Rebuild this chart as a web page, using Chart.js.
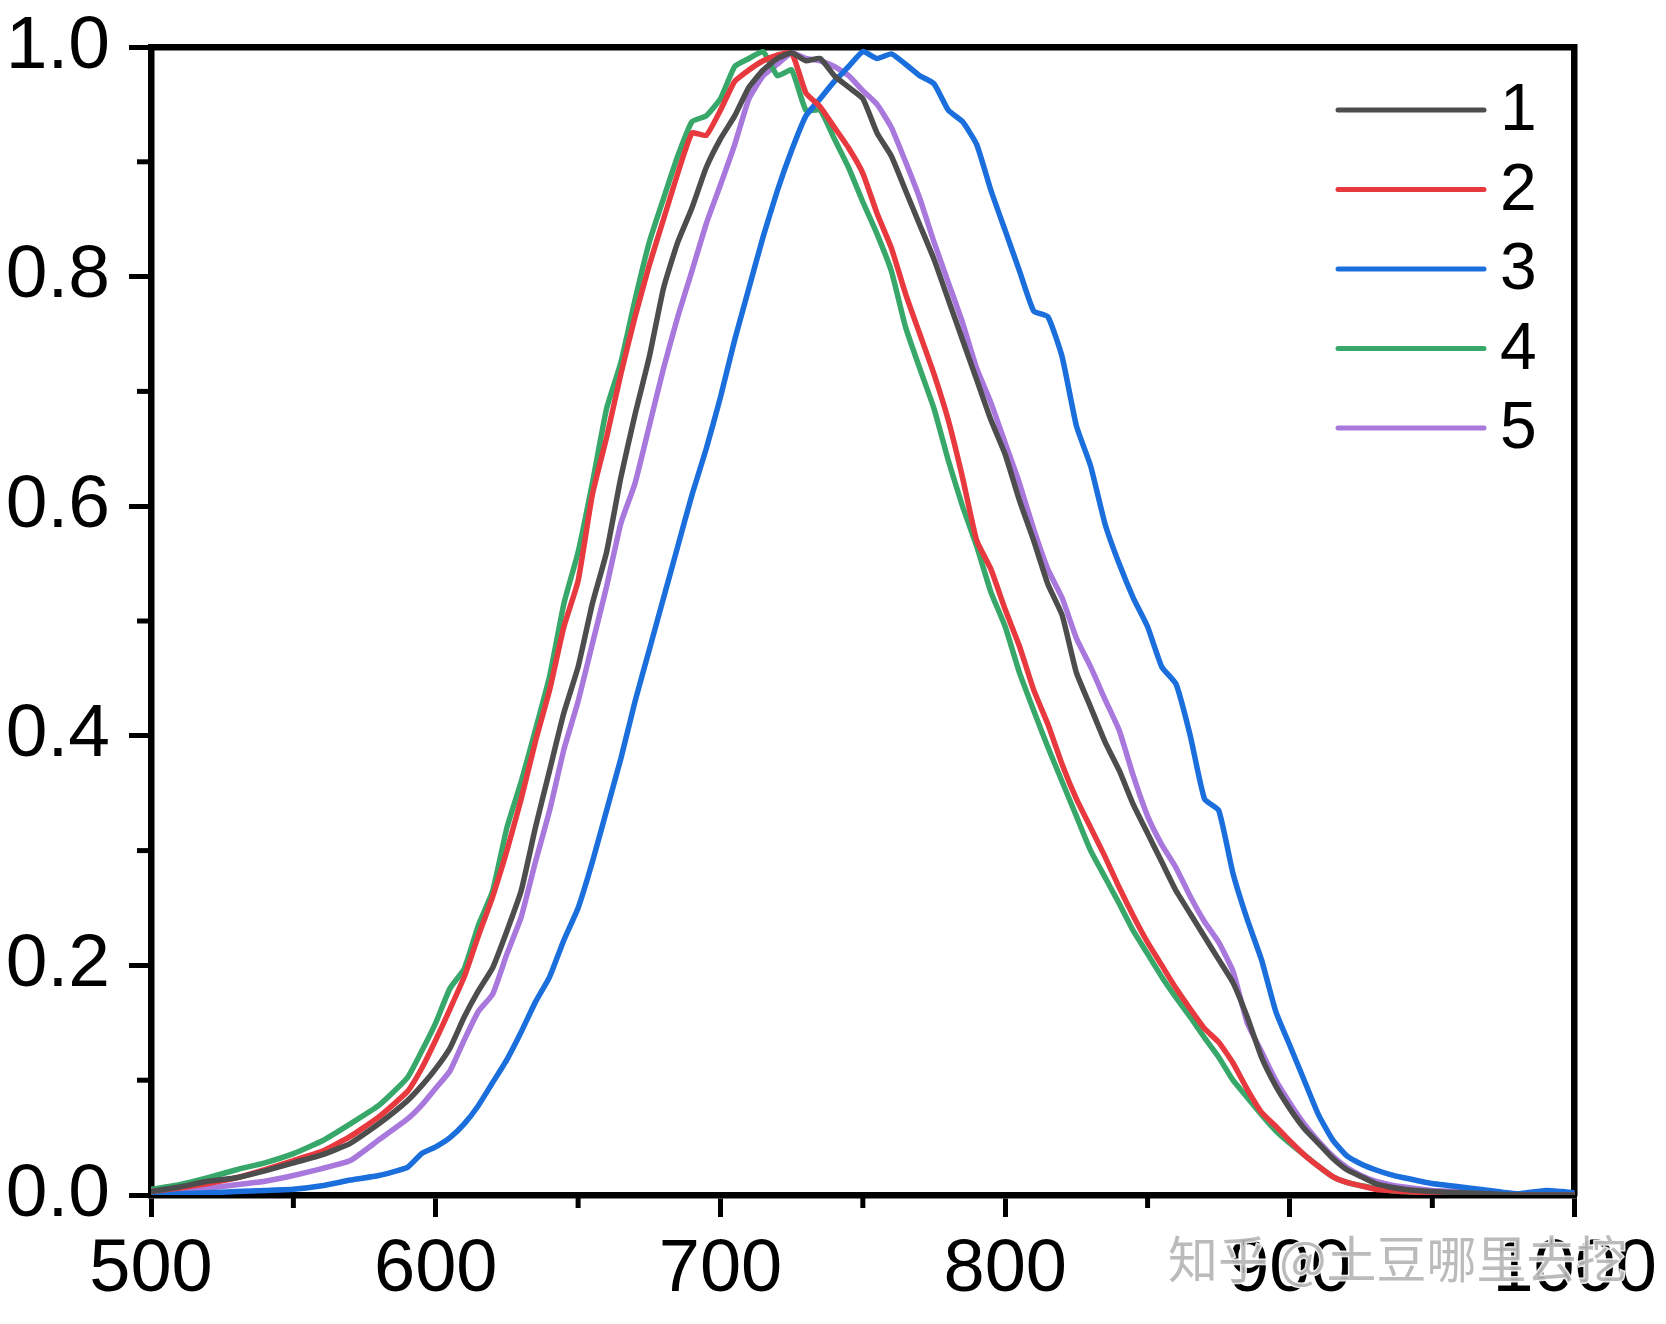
<!DOCTYPE html>
<html>
<head>
<meta charset="utf-8">
<script src="https://cdn.jsdelivr.net/npm/chart.js@4.4.1/dist/chart.umd.min.js"></script>
<style>
  html, body { margin: 0; padding: 0; background: #fff; }
  #wrap { width: 1666px; height: 1324px; }
</style>
</head>
<body>
<div id="wrap"><canvas id="specChart"></canvas></div>
<script>
// Normalised emission spectra, samples 1-5.
// wavelengths in nm; every series holds one value per wavelength.
var wavelengths = [500, 510, 520, 530, 540, 550, 560, 570, 580,
  590, 595, 600, 605, 610, 615, 620, 625, 630, 635, 640,
  645, 650, 655, 660, 665, 670, 675, 680, 685, 690, 695, 700,
  705, 710, 715, 720, 725, 730, 735, 740, 745, 750, 755, 760,
  765, 770, 775, 780, 785, 790, 795, 800, 805, 810, 815, 820,
  825, 830, 835, 840, 845, 850, 855, 860, 865, 870, 875, 880,
  885, 890, 895, 900, 905, 910, 915, 920, 925, 930, 935, 940,
  950, 960, 970, 980, 990, 1000];

var s1 = [0.003, 0.007, 0.012, 0.015, 0.021, 0.028, 0.035, 0.045, 0.062,
  0.082, 0.095, 0.11, 0.128, 0.155, 0.178, 0.198, 0.23, 0.265, 0.32, 0.37,
  0.42, 0.46, 0.515, 0.56, 0.625, 0.68, 0.73, 0.79, 0.83, 0.86, 0.895, 0.92,
  0.94, 0.965, 0.98, 0.99, 0.995, 0.988, 0.99, 0.975, 0.965, 0.955, 0.925, 0.905,
  0.875, 0.845, 0.815, 0.78, 0.745, 0.71, 0.675, 0.645, 0.605, 0.57, 0.532, 0.505,
  0.455, 0.425, 0.395, 0.37, 0.34, 0.315, 0.29, 0.265, 0.245, 0.225, 0.205, 0.185,
  0.155, 0.12, 0.095, 0.075, 0.058, 0.045, 0.032, 0.022, 0.016, 0.01, 0.007, 0.005,
  0.003, 0.002, 0.001, 0, 0, 0];

var s2 = [0.003, 0.006, 0.01, 0.015, 0.022, 0.03, 0.038, 0.051, 0.068,
  0.09, 0.11, 0.135, 0.162, 0.19, 0.226, 0.26, 0.30, 0.345, 0.395, 0.44,
  0.495, 0.535, 0.61, 0.66, 0.715, 0.765, 0.81, 0.85, 0.89, 0.925, 0.923, 0.945,
  0.97, 0.98, 0.988, 0.993, 0.995, 0.96, 0.948, 0.93, 0.912, 0.89, 0.855, 0.825,
  0.785, 0.75, 0.715, 0.675, 0.625, 0.57, 0.545, 0.51, 0.478, 0.44, 0.41, 0.375,
  0.345, 0.32, 0.295, 0.268, 0.243, 0.22, 0.2, 0.18, 0.162, 0.145, 0.133, 0.115,
  0.092, 0.072, 0.06, 0.047, 0.035, 0.025, 0.016, 0.011, 0.008, 0.005, 0.004, 0.003,
  0.002, 0.001, 0, 0, 0, 0];

var s3 = [0, 0.001, 0.002, 0.003, 0.004, 0.005, 0.008, 0.013, 0.017,
  0.024, 0.036, 0.042, 0.05, 0.062, 0.078, 0.098, 0.118, 0.142, 0.168, 0.19,
  0.222, 0.25, 0.29, 0.335, 0.38, 0.43, 0.475, 0.52, 0.565, 0.61, 0.65, 0.695,
  0.745, 0.79, 0.835, 0.875, 0.91, 0.94, 0.955, 0.97, 0.983, 0.996, 0.99, 0.994,
  0.985, 0.975, 0.968, 0.945, 0.935, 0.915, 0.875, 0.84, 0.805, 0.77, 0.765, 0.73,
  0.67, 0.635, 0.585, 0.55, 0.52, 0.495, 0.46, 0.445, 0.40, 0.345, 0.335, 0.28,
  0.24, 0.205, 0.16, 0.13, 0.10, 0.07, 0.048, 0.034, 0.027, 0.022, 0.018, 0.015,
  0.01, 0.007, 0.004, 0.001, 0.004, 0.002];

var s4 = [0.005, 0.009, 0.015, 0.022, 0.028, 0.036, 0.047, 0.062, 0.078,
  0.102, 0.125, 0.15, 0.18, 0.197, 0.235, 0.265, 0.32, 0.36, 0.405, 0.452,
  0.515, 0.56, 0.62, 0.685, 0.725, 0.78, 0.83, 0.868, 0.905, 0.935, 0.94, 0.955,
  0.983, 0.99, 0.996, 0.975, 0.98, 0.945, 0.945, 0.92, 0.895, 0.865, 0.837, 0.805,
  0.756, 0.72, 0.685, 0.64, 0.60, 0.565, 0.525, 0.495, 0.455, 0.422, 0.39, 0.36,
  0.33, 0.30, 0.277, 0.254, 0.23, 0.21, 0.19, 0.172, 0.155, 0.137, 0.12, 0.10,
  0.085, 0.07, 0.056, 0.045, 0.035, 0.025, 0.016, 0.011, 0.008, 0.006, 0.004, 0.003,
  0.002, 0.001, 0, 0, 0, 0];

var s5 = [0.002, 0.004, 0.006, 0.009, 0.012, 0.017, 0.023, 0.03, 0.048,
  0.066, 0.078, 0.093, 0.108, 0.135, 0.16, 0.175, 0.21, 0.242, 0.29, 0.335,
  0.388, 0.43, 0.48, 0.53, 0.585, 0.62, 0.67, 0.72, 0.765, 0.805, 0.846, 0.88,
  0.915, 0.955, 0.975, 0.985, 0.995, 0.99, 0.988, 0.983, 0.975, 0.962, 0.95, 0.93,
  0.9, 0.868, 0.83, 0.795, 0.76, 0.72, 0.69, 0.655, 0.62, 0.58, 0.545, 0.52,
  0.485, 0.46, 0.432, 0.405, 0.365, 0.33, 0.305, 0.285, 0.26, 0.238, 0.22, 0.195,
  0.15, 0.125, 0.10, 0.08, 0.062, 0.047, 0.034, 0.024, 0.017, 0.012, 0.009, 0.007,
  0.004, 0.003, 0.002, 0.001, 0, 0];

var seriesLabels = ['1', '2', '3', '4', '5'];
var seriesColors = ['#4d4d4d', '#e8393e', '#1b6fdc', '#38a86a', '#a878dc'];
var seriesValues = [s1, s2, s3, s4, s5];

var xTicksMinor = [550, 650, 750, 850, 950];
var yTicksMinor = [0.1, 0.3, 0.5, 0.7, 0.9];
var watermark = '知乎 @土豆哪里去挖';

var FONT = '"Liberation Sans", Arial, Helvetica, sans-serif';

function toPoints(vals) {
  return vals.map(function(v, i) { return { x: wavelengths[i], y: v }; });
}

var datasets = seriesValues.map(function(vals, i) {
  return {
    label: seriesLabels[i],
    data: toPoints(vals),
    borderColor: seriesColors[i],
    backgroundColor: seriesColors[i],
    borderWidth: 5.5,
    pointRadius: 0,
    tension: 0.15,
    fill: false
  };
});

// short outward ticks half way between labelled ones
var minorTicks = {
  id: 'minorTicks',
  afterDraw: function(chart) {
    var ctx = chart.ctx, xs = chart.scales.x, ys = chart.scales.y, a = chart.chartArea;
    ctx.save();
    ctx.strokeStyle = '#000';
    ctx.lineWidth = 5;
    xTicksMinor.forEach(function(v) {
      var px = xs.getPixelForValue(v);
      ctx.beginPath(); ctx.moveTo(px, a.bottom); ctx.lineTo(px, a.bottom + 13); ctx.stroke();
    });
    yTicksMinor.forEach(function(v) {
      var py = ys.getPixelForValue(v);
      ctx.beginPath(); ctx.moveTo(a.left, py); ctx.lineTo(a.left - 14, py); ctx.stroke();
    });
    ctx.restore();
  }
};

// legend sits inside the plot, top right, no frame
var insetLegend = {
  id: 'insetLegend',
  afterDraw: function(chart) {
    var ctx = chart.ctx;
    ctx.save();
    ctx.font = '66px ' + FONT;
    ctx.textBaseline = 'middle';
    chart.data.datasets.forEach(function(ds, i) {
      var y = 110 + i * 79.5;
      ctx.strokeStyle = ds.borderColor;
      ctx.lineWidth = 5;
      ctx.lineCap = 'round';
      ctx.beginPath(); ctx.moveTo(1338, y); ctx.lineTo(1484, y); ctx.stroke();
      ctx.fillStyle = '#000';
      ctx.fillText(ds.label, 1500, y + 2);
    });
    ctx.restore();
  }
};

var stamp = {
  id: 'stamp',
  afterDraw: function(chart) {
    var ctx = chart.ctx;
    ctx.save();
    ctx.font = '50px "Noto Sans CJK SC", sans-serif';
    ctx.textBaseline = 'alphabetic';
    ctx.lineWidth = 3;
    ctx.strokeStyle = 'rgba(255,255,255,0.9)';
    ctx.strokeText(watermark, 1168, 1278);
    ctx.fillStyle = 'rgba(175,175,175,0.85)';
    ctx.fillText(watermark, 1168, 1278);
    ctx.restore();
  }
};

new Chart(document.getElementById('specChart'), {
  type: 'line',
  data: { datasets: datasets },
  plugins: [minorTicks, insetLegend, stamp],
  options: {
    responsive: true,
    maintainAspectRatio: false,
    animation: false,
    layout: { padding: { left: 0, top: 47, right: 90, bottom: 0 } },
    plugins: {
      legend: { display: false },
      tooltip: { enabled: false }
    },
    scales: {
      x: {
        type: 'linear', position: 'bottom', min: 500, max: 1000, z: 1,
        afterFit: function(s) { s.height = 129; },
        ticks: {
          stepSize: 100, autoSkip: false, maxRotation: 0, padding: 9, color: '#000',
          font: { family: FONT, size: 74 },
          callback: function(v) { return String(v); }
        },
        grid: { drawOnChartArea: false, tickLength: 22, lineWidth: 5, color: '#000' },
        border: { display: true, color: '#000', width: 6.5 }
      },
      y: {
        type: 'linear', position: 'left', min: 0, max: 1, z: 1,
        afterFit: function(s) { s.width = 151; },
        ticks: {
          stepSize: 0.2, padding: 19, color: '#000',
          font: { family: FONT, size: 75, lineHeight: 0.6 },
          callback: function(v) { return v.toFixed(1); }
        },
        grid: { drawOnChartArea: false, tickLength: 22, lineWidth: 5, color: '#000' },
        border: { display: true, color: '#000', width: 6.5 }
      },
      x2: {
        type: 'linear', position: 'top', min: 500, max: 1000, z: 1,
        afterFit: function(s) { s.height = 0; },
        ticks: { display: false },
        grid: { display: false, drawTicks: false },
        border: { display: true, color: '#000', width: 6.5 }
      },
      y2: {
        type: 'linear', position: 'right', min: 0, max: 1, z: 1,
        afterFit: function(s) { s.width = 0; },
        ticks: { display: false },
        grid: { display: false, drawTicks: false },
        border: { display: true, color: '#000', width: 6.5 }
      }
    }
  }
});
</script>
</body>
</html>
